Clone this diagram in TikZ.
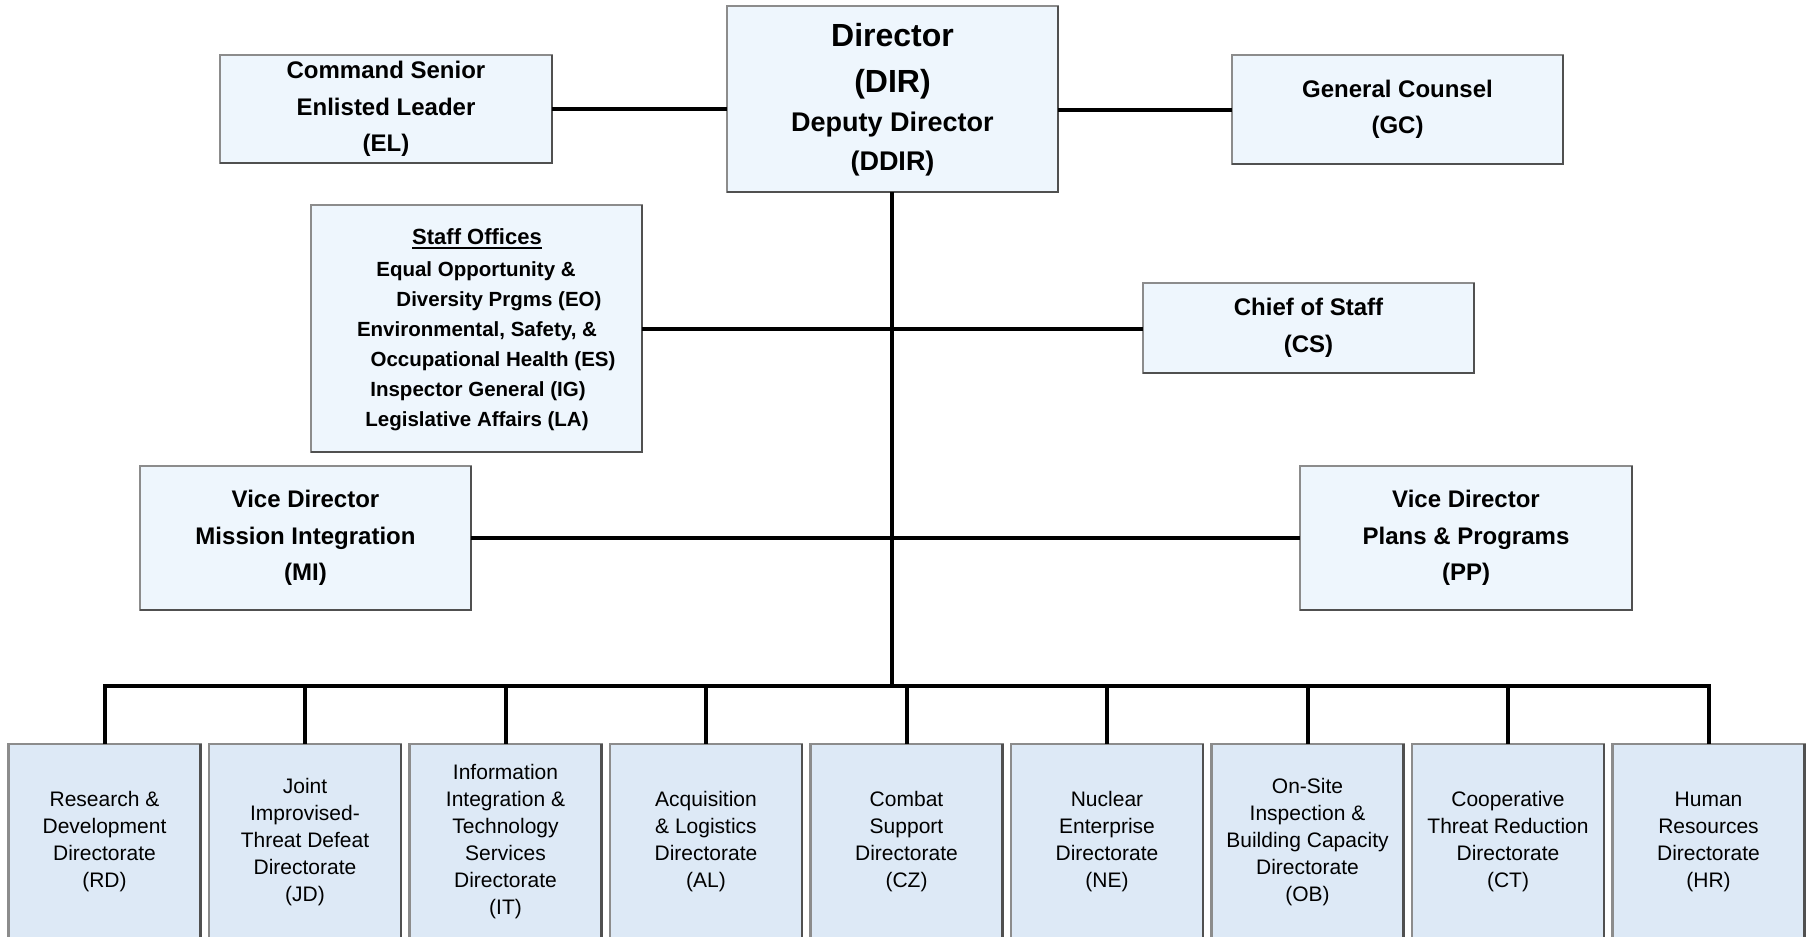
\documentclass[tikz,border=0pt]{standalone}
\usepackage{fontspec}
\setmainfont{Liberation Sans}
\definecolor{topfill}{RGB}{238,246,253}
\definecolor{botfill}{RGB}{221,233,246}
\definecolor{edgelight}{RGB}{140,140,140}
\definecolor{edgedark}{RGB}{80,80,80}
\tikzset{
  topbox/.style={draw=edgelight, line width=2.5pt, fill=topfill, inner sep=0pt, outer sep=0pt,
    align=center, font=\bfseries\fontsize{24}{36.5}\selectfont},
  botbox/.style={draw=edgelight, line width=2.5pt, fill=botfill, inner sep=0pt, outer sep=0pt,
    minimum width=192pt, minimum height=196pt, align=center, font=\fontsize{21}{27}\selectfont},
  conn/.style={line width=4pt, black},
  shadeedge/.style={line width=2.5pt, edgedark},
  dirbig/.style={inner sep=0pt, anchor=base, font=\bfseries\fontsize{32}{32}\selectfont},
  dirsmall/.style={inner sep=0pt, anchor=base, font=\bfseries\fontsize{27}{27}\selectfont},
  stafftxt/.style={inner sep=0pt, anchor=base, font=\bfseries\fontsize{20.5}{30}\selectfont},
}
\begin{document}
\begin{tikzpicture}[x=1pt,y=-1pt]
\useasboundingbox (0,0) rectangle (1810,937);
\clip (0,0) rectangle (1810,937);
\fill[white] (0,0) rectangle (1810,937);

% top level boxes
\node[topbox, minimum width=331pt, minimum height=186pt] (dir) at (892.5,99) {};
\node[topbox, minimum width=332pt, minimum height=108pt] (el) at (386,109) {Command Senior\\Enlisted Leader\\(EL)};
\node[topbox, minimum width=331pt, minimum height=109pt] (gc) at (1397.5,109.5) {General Counsel\\(GC)};
\node[topbox, minimum width=331pt, minimum height=247pt] (staff) at (476.5,328.5) {};
\node[topbox, minimum width=331pt, minimum height=90pt] (cs) at (1308.5,328) {Chief of Staff\\(CS)};
\node[topbox, minimum width=331pt, minimum height=144pt] (mi) at (305.5,538) {Vice Director\\Mission Integration\\(MI)};
\node[topbox, minimum width=332pt, minimum height=144pt] (pp) at (1466,538) {Vice Director\\Plans \& Programs\\(PP)};

% bottom row
\node[botbox] (b1) at (104.5,842) {Research \&\\Development\\Directorate\\(RD)};
\node[botbox] (b2) at (305,842) {Joint\\Improvised-\\Threat Defeat\\Directorate\\(JD)};
\node[botbox] (b3) at (505.5,842) {Information\\Integration \&\\Technology\\Services\\Directorate\\(IT)};
\node[botbox] (b4) at (706,842) {Acquisition\\\& Logistics\\Directorate\\(AL)};
\node[botbox] (b5) at (906.5,842) {Combat\\Support\\Directorate\\(CZ)};
\node[botbox] (b6) at (1107,842) {Nuclear\\Enterprise\\Directorate\\(NE)};
\node[botbox] (b7) at (1307.5,842) {On-Site\\Inspection \&\\Building Capacity\\Directorate\\(OB)};
\node[botbox] (b8) at (1508,842) {Cooperative\\Threat Reduction\\Directorate\\(CT)};
\node[botbox] (b9) at (1708.5,842) {Human\\Resources\\Directorate\\(HR)};

% darker right/bottom edges
\foreach \n in {dir,el,gc,staff,cs,mi,pp,b1,b2,b3,b4,b5,b6,b7,b8,b9}
  \draw[shadeedge] (\n.north east) -- (\n.south east) -- (\n.south west);

% director text
\node[dirbig] (dirA) at (892.5,46) {Director};
\node[dirbig] (dirB) at (892.5,92) {(DIR)};
\node[dirsmall] (dirC) at (892.5,131) {Deputy Director};
\node[dirsmall] (dirD) at (892.5,170) {(DDIR)};

% staff offices text
\node[inner sep=0pt, anchor=base, font=\bfseries\fontsize{22}{22}\selectfont] (stH) at (477,244) {Staff Offices};
\draw[line width=1.6pt] ([yshift=-4pt]stH.base west) -- ([yshift=-4pt]stH.base east);
\node[stafftxt] (st1) at (476,276) {Equal Opportunity \&};
\node[stafftxt] (st2) at (499,306.5) {Diversity Prgms (EO)};
\node[stafftxt] (st3) at (477,336.5) {Environmental, Safety, \&};
\node[stafftxt] (st4) at (493,366.5) {Occupational Health (ES)};
\node[stafftxt] (st5) at (478,396.5) {Inspector General (IG)};
\node[stafftxt] (st6) at (477,426.5) {Legislative Affairs (LA)};

% connectors
\coordinate (bus) at (892,686);
\draw[conn] (el.east) -- (el.east -| dir.west);
\draw[conn] (gc.west -| dir.east) -- (gc.west);
\draw[conn] (dir.south -| bus) -- (bus);
\draw[conn] (staff.east) -- (staff.east -| cs.west);
\draw[conn] (mi.east) -- (mi.east -| pp.west);
\draw[conn, line join=miter] (b1.north) -- (b1.north |- bus) -- (b9.north |- bus) -- (b9.north);
\foreach \i in {2,...,8}
  \draw[conn] (b\i.north |- bus) -- (b\i.north);
\end{tikzpicture}
\end{document}
